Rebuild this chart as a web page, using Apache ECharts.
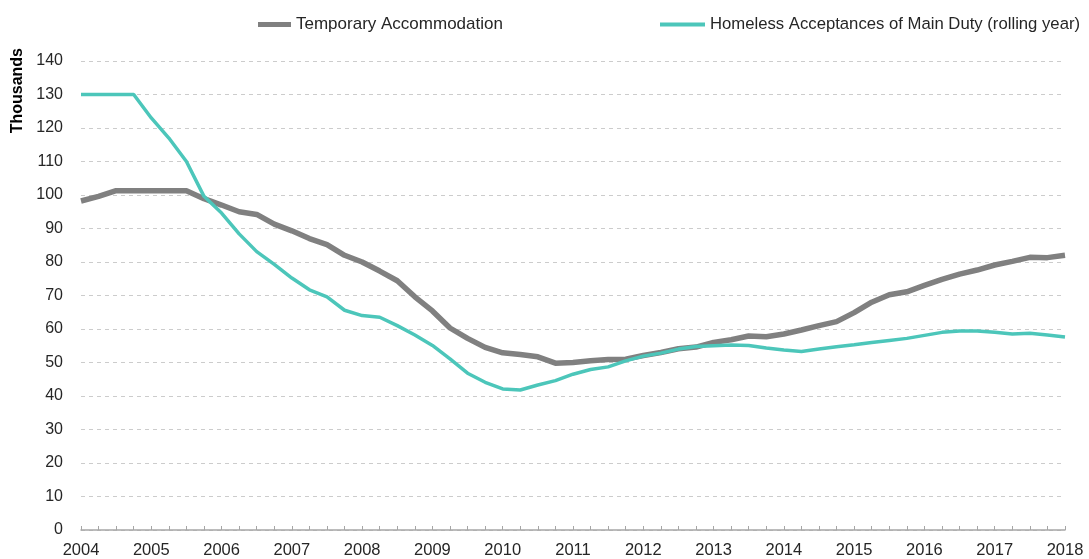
<!DOCTYPE html>
<html>
<head>
<meta charset="utf-8">
<script src="https://cdn.jsdelivr.net/npm/echarts@6/dist/echarts.min.js"></script>
<style>
html,body{margin:0;padding:0;background:#fff;}
#chart{width:1089px;height:559px;}
</style>
</head>
<body>
<div id="chart"></div>
<script>
// Quarterly categories 2004 Q1 .. 2018 Q1
var categories = [
"2004 Q1","2004 Q2","2004 Q3","2004 Q4","2005 Q1","2005 Q2","2005 Q3","2005 Q4",
"2006 Q1","2006 Q2","2006 Q3","2006 Q4","2007 Q1","2007 Q2","2007 Q3","2007 Q4",
"2008 Q1","2008 Q2","2008 Q3","2008 Q4","2009 Q1","2009 Q2","2009 Q3","2009 Q4",
"2010 Q1","2010 Q2","2010 Q3","2010 Q4","2011 Q1","2011 Q2","2011 Q3","2011 Q4",
"2012 Q1","2012 Q2","2012 Q3","2012 Q4","2013 Q1","2013 Q2","2013 Q3","2013 Q4",
"2014 Q1","2014 Q2","2014 Q3","2014 Q4","2015 Q1","2015 Q2","2015 Q3","2015 Q4",
"2016 Q1","2016 Q2","2016 Q3","2016 Q4","2017 Q1","2017 Q2","2017 Q3","2017 Q4",
"2018 Q1"
];
// Temporary Accommodation (thousands)
var temporaryAccommodation = [
98.2,99.6,101.3,101.3,101.3,101.3,101.3,98.9,97.0,95.0,94.2,91.3,89.3,87.0,85.2,82.0,
80.0,77.3,74.4,69.6,65.4,60.3,57.2,54.5,52.9,52.4,51.7,49.8,50.0,50.5,50.9,51.0,
52.1,53.0,54.1,54.6,56.0,56.8,57.9,57.7,58.5,59.7,61.0,62.2,64.9,68.0,70.2,71.1,
73.0,74.8,76.4,77.6,79.1,80.2,81.4,81.3,82.0
];
// Homeless Acceptances of Main Duty (rolling year, thousands)
var homelessAcceptances = [
130,130,130,130,123,117,110,99.6,94.6,88.4,83.1,79.3,75.2,71.7,69.6,65.6,
64.0,63.5,61.0,58.2,55.1,51.1,46.8,44.1,42.1,41.8,43.3,44.6,46.5,47.9,48.7,50.5,
51.9,52.8,54.0,54.8,55.0,55.2,55.1,54.3,53.7,53.3,54.0,54.7,55.3,56.0,56.6,57.2,
58.1,59.0,59.4,59.4,59.0,58.5,58.7,58.2,57.6
];
var seriesNames = ["Temporary Accommodation","Homeless Acceptances of Main Duty (rolling year)"];
var yAxisTitle = "Thousands";

var FONT = "Liberation Sans, Arial, sans-serif";
var chart = echarts.init(document.getElementById('chart'), null, {renderer:'canvas'});
chart.setOption({
  animation:false,
  backgroundColor:'#ffffff',
  textStyle:{fontFamily:FONT},
  grid:{left:81,right:24,top:61,bottom:29,containLabel:false},
  legend:[
    {data:[{name:seriesNames[0],icon:'rect'}],left:253,top:11,itemWidth:33,itemHeight:5,
     textStyle:{fontFamily:FONT,fontSize:17,color:'#262626'}},
    {data:[{name:seriesNames[1],icon:'rect'}],left:655,top:11,itemWidth:45,itemHeight:4,
     textStyle:{fontFamily:FONT,fontSize:16.7,color:'#262626'}}
  ],
  graphic:[{
    type:'text',left:10,top:48,
    style:{text:yAxisTitle,font:'bold 16px '+FONT,fill:'#000000'},
    rotation:Math.PI/2,
    originX:0,originY:0
  }],
  xAxis:{
    type:'category',data:categories,boundaryGap:false,
    axisLine:{show:true,lineStyle:{color:'#a6a6a6',width:1.5}},
    axisTick:{show:true,interval:0,length:4,inside:true,lineStyle:{color:'#a6a6a6'}},
    axisLabel:{interval:3,margin:12,fontSize:16.5,color:'#262626',fontFamily:FONT,
      formatter:function(v){return v.slice(0,4);}},
    splitLine:{show:false}
  },
  yAxis:{
    type:'value',min:0,max:140,interval:10,
    axisLine:{show:false},axisTick:{show:false},
    axisLabel:{margin:18,fontSize:16,color:'#262626',fontFamily:FONT},
    splitLine:{show:true,lineStyle:{color:'#cccccc',type:[4,4],width:1}}
  },
  series:[
    {name:seriesNames[0],type:'line',data:temporaryAccommodation,showSymbol:false,symbol:'none',
     lineStyle:{color:'#808080',width:5.5},itemStyle:{color:'#808080'},z:2},
    {name:seriesNames[1],type:'line',data:homelessAcceptances,showSymbol:false,symbol:'none',
     lineStyle:{color:'#4cc6ba',width:3.5},itemStyle:{color:'#4cc6ba'},z:3}
  ]
});
</script>
</body>
</html>
